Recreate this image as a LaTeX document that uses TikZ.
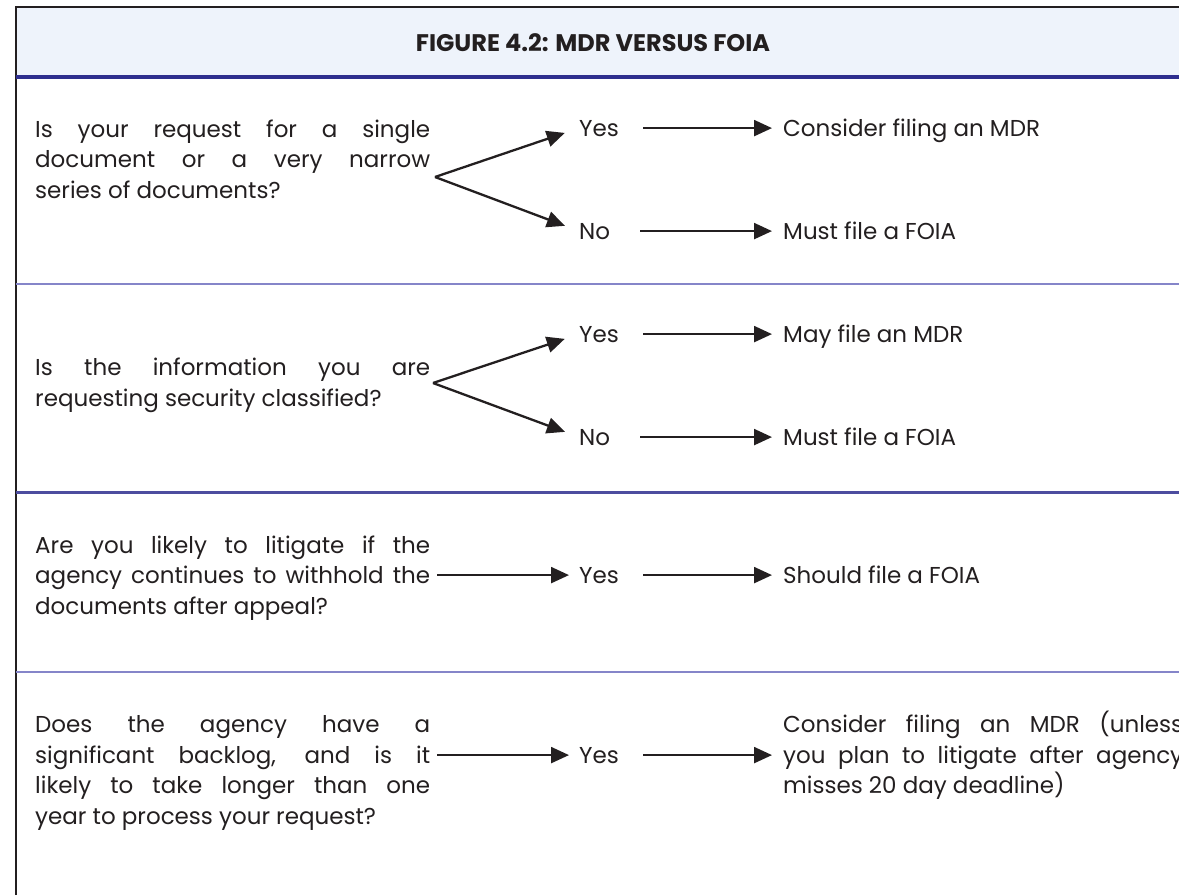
\documentclass[tikz,border=0pt]{standalone}
\usepackage{fontspec}
\usepackage{graphicx}
\setmainfont{Poppins}
\usetikzlibrary{arrows.meta,calc}
\definecolor{ink}{HTML}{231F20}
\definecolor{hdrfill}{HTML}{EEF3FB}
\definecolor{navy}{HTML}{2E2E8E}
\definecolor{lilac}{HTML}{8585C9}
\newlength{\qw}\setlength{\qw}{395pt}
\newcommand{\jl}[1]{\makebox[\qw][s]{#1}}
\newcommand{\jr}[1]{\makebox[400pt][s]{#1}}
\begin{document}
\begin{tikzpicture}[x=1pt,y=-1pt,
  txt/.style={font=\fontsize{23}{30.5}\selectfont, text=ink, inner sep=0pt, anchor=base west},
  qtext/.style={txt, align=left},
  arr/.style={draw=ink, line width=2.3pt, -{Triangle[length=18pt,width=16pt]}},
  sepline/.style={line width=2.5pt}]
\useasboundingbox (0,0) rectangle (1179,895);
\clip (0,0) rectangle (1179,895);
\fill[white] (0,0) rectangle (1179,895);
\fill[hdrfill] (16,7) rectangle (1179,76);
\draw[line width=1.8pt, ink] (16,895) -- (16,7) -- (1179,7);
\draw[navy, line width=3.5pt] (16,77) -- (1179,77);
\draw[sepline, lilac] (16,284) -- (1179,284);
\draw[sepline, navy!85, line width=3pt] (16,492) -- (1179,492);
\draw[sepline, lilac] (16,672) -- (1179,672);

\node[font=\bfseries\fontsize{24}{28}\selectfont, text=ink, inner sep=0pt] (title) at (593,43)
  {FIGURE 4.2: MDR VERSUS FOIA};

% Row 1
\node[qtext] (q1) at (35,198) {\jl{Is your request for a single}\\\jl{document or a very narrow}\\series of documents?};
\node[txt] (y1) at (579,136) {Yes};
\node[txt] (n1) at (579,239) {No};
\node[txt] (r1y) at (783,136) {Consider filing an MDR};
\node[txt] (r1n) at (783,239) {Must file a FOIA};
\coordinate (b1) at (435,177);
\draw[arr, shorten >=15pt] (b1) -- (y1.west);
\draw[arr, shorten >=15pt] (b1) -- (n1.west);
\draw[arr, shorten <=24pt, shorten >=11pt] (y1.east) -- (y1.east -| r1y.west);
\draw[arr, shorten <=30pt, shorten >=11pt] (n1.east) -- (n1.east -| r1n.west);

% Row 2
\node[qtext] (q2) at (35,406) {\jl{Is the information you are}\\requesting security classified?};
\node[txt] (y2) at (579,342) {Yes};
\node[txt] (n2) at (579,445) {No};
\node[txt] (r2y) at (783,342) {May file an MDR};
\node[txt] (r2n) at (783,445) {Must file a FOIA};
\coordinate (b2) at (433,383);
\draw[arr, shorten >=15pt] (b2) -- (y2.west);
\draw[arr, shorten >=15pt] (b2) -- (n2.west);
\draw[arr, shorten <=24pt, shorten >=11pt] (y2.east) -- (y2.east -| r2y.west);
\draw[arr, shorten <=30pt, shorten >=11pt] (n2.east) -- (n2.east -| r2n.west);

% Row 3
\node[qtext] (q3) at (35,614) {\jl{Are you likely to litigate if the}\\\jl{agency continues to withhold the}\\documents after appeal?};
\node[txt] (y3) at (579,583) {Yes};
\node[txt] (r3y) at (783,583) {Should file a FOIA};
\draw[arr, shorten <=7pt, shorten >=10pt] (q3.east |- y3.west) -- (y3.west);
\draw[arr, shorten <=24pt, shorten >=11pt] (y3.east) -- (y3.east -| r3y.west);

% Row 4
\node[qtext] (q4) at (35,824) {\jl{Does the agency have a}\\\jl{significant backlog, and is it}\\\jl{likely to take longer than one}\\year to process your request?};
\node[txt] (y4) at (579,763) {Yes};
\node[qtext] (r4y) at (783,793.5) {\jr{Consider filing an MDR (unless}\\\jr{you plan to litigate after agency}\\misses 20 day deadline)};
\draw[arr, shorten <=7pt, shorten >=10pt] (q4.east |- y4.west) -- (y4.west);
\draw[arr, shorten <=24pt, shorten >=11pt] (y4.east) -- (y4.east -| r4y.west);
\end{tikzpicture}
\end{document}
